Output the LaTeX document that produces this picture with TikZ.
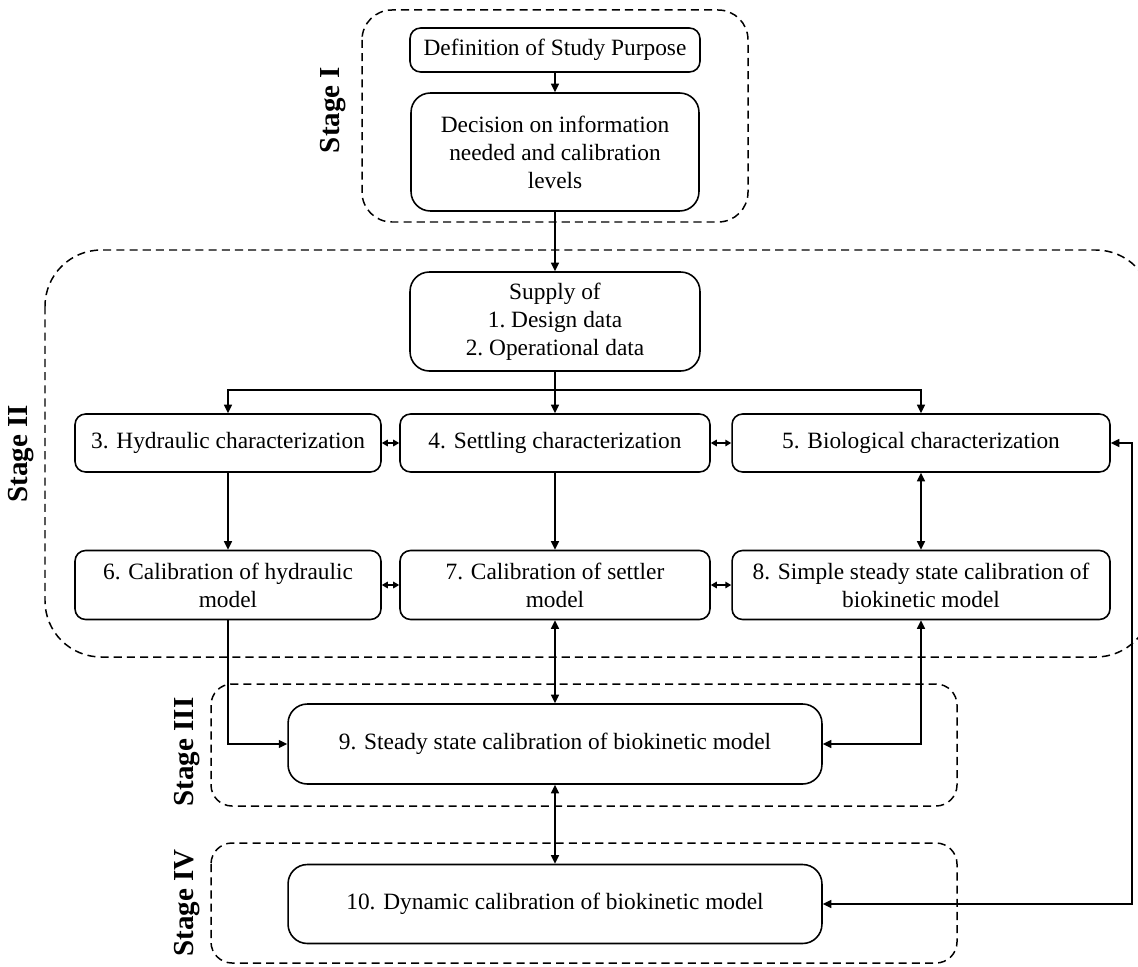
\documentclass[tikz,border=0pt]{standalone}
\usepackage{fontspec}
\setmainfont{Liberation Serif}
\usepackage{tikz}
\usetikzlibrary{arrows.meta}
\tikzset{
stepbox/.style={draw=black,line width=0.9pt,rounded corners=6pt,align=center,inner sep=2pt,
font=\fontsize{13.3}{15.9}\selectfont},
bigbox/.style={stepbox,rounded corners=11pt},
stageframe/.style={draw=black,line width=0.85pt,dash pattern=on 4.6pt off 2.9pt,rounded corners=17pt},
stagelabel/.style={rotate=90,font=\fontsize{16.5}{18}\selectfont\bfseries},
flowarrow/.style={-{Triangle[length=1.7mm,width=1.6mm]},line width=0.85pt},
twoway/.style={{Triangle[length=1.7mm,width=1.6mm]}-{Triangle[length=1.7mm,width=1.6mm]},line width=0.85pt},
shortway/.style={{Triangle[length=1.2mm,width=1.3mm]}-{Triangle[length=1.2mm,width=1.3mm]},line width=0.85pt}
}
\begin{document}
\begin{tikzpicture}[x=0.02cm,y=-0.02cm]
\useasboundingbox (0,0) rectangle (1138,966);
\begin{scope}
\clip (0,0) rectangle (1138,966);
% stage frames
\draw[stageframe] (362,10) rectangle (748,222);
\draw[stageframe,rounded corners=32pt] (45,250) rectangle (1152,657);
\draw[stageframe,rounded corners=12pt] (211,684) rectangle (957,806);
\draw[stageframe,rounded corners=12pt] (211,843) rectangle (957,963);
\end{scope}
\node[stagelabel] (lblI) at (333,110) {Stage I};
\node[stagelabel] (lblII) at (21,454) {Stage II};
\node[stagelabel] (lblIII) at (187,752) {Stage III};
\node[stagelabel] (lblIV) at (187,903) {Stage IV};

% steps
\node[stepbox,minimum width=5.8cm,minimum height=0.88cm] (purpose) at (555,50) {Definition of Study Purpose};
\node[bigbox,minimum width=5.76cm,minimum height=2.36cm] (decide) at (555,152)
  {Decision on information\\needed and calibration\\levels};
\node[bigbox,minimum width=5.8cm,minimum height=1.98cm] (supply) at (555,321.5)
  {Supply of\\1.\ Design data\\2.\ Operational data};
\node[stepbox,minimum width=6.12cm,minimum height=1.16cm] (hydr) at (228,443) {3. Hydraulic characterization};
\node[stepbox,minimum width=6.2cm,minimum height=1.16cm] (settl) at (555,443) {4. Settling characterization};
\node[stepbox,minimum width=7.56cm,minimum height=1.16cm] (biol) at (921,443) {5. Biological characterization};
\node[stepbox,minimum width=6.12cm,minimum height=1.38cm] (calhyd) at (228,585) {6. Calibration of hydraulic\\model};
\node[stepbox,minimum width=6.2cm,minimum height=1.38cm] (calset) at (555,585) {7. Calibration of settler\\model};
\node[stepbox,minimum width=7.56cm,minimum height=1.38cm] (simple) at (921,585)
  {8. Simple steady state calibration of\\biokinetic model};
\node[bigbox,minimum width=10.68cm,minimum height=1.6cm] (steady) at (555,744) {9. Steady state calibration of biokinetic model};
\node[bigbox,minimum width=10.68cm,minimum height=1.58cm] (dynamic) at (555,904) {10. Dynamic calibration of biokinetic model};

\coordinate (split) at (555,390);
\coordinate (rturn) at (1132,443);

% connectors
\draw[flowarrow] (purpose) -- (decide);
\draw[flowarrow] (decide) -- (supply);
\draw[flowarrow] (supply) -- (settl);
\draw[flowarrow] (split) -| (hydr);
\draw[flowarrow] (split) -| (biol);
\draw[shortway] (hydr) -- (settl);
\draw[shortway] (settl) -- (biol);
\draw[flowarrow] (hydr) -- (calhyd);
\draw[flowarrow] (settl) -- (calset);
\draw[twoway] (biol) -- (simple);
\draw[shortway] (calhyd) -- (calset);
\draw[shortway] (calset) -- (simple);
\draw[flowarrow] (calhyd.south) |- (steady.west);
\draw[twoway] (calset) -- (steady);
\draw[twoway] (simple.south) |- (steady.east);
\draw[twoway] (steady) -- (dynamic);
\draw[twoway] (dynamic.east) -| (rturn) -- (biol.east);
\end{tikzpicture}
\end{document}
